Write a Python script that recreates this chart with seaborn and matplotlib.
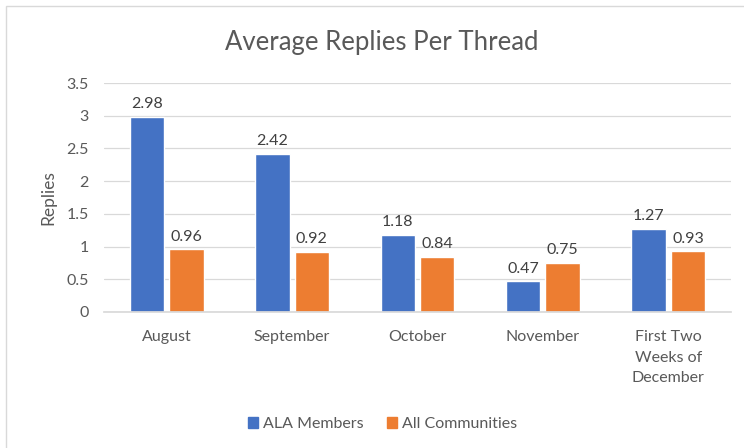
import matplotlib.pyplot as plt
import matplotlib.patches as mpatches
import seaborn as sns
import pandas as pd

# chart values
months = ["August", "September", "October", "November", "First Two\nWeeks of\nDecember"]
ala_members = [2.98, 2.42, 1.18, 0.47, 1.27]
all_communities = [0.96, 0.92, 0.84, 0.75, 0.93]
series_names = ["ALA Members", "All Communities"]
y_ticks = [0, 0.5, 1, 1.5, 2, 2.5, 3, 3.5]
y_tick_labels = ["0", "0.5", "1", "1.5", "2", "2.5", "3", "3.5"]

sns.set_theme(style="white")
plt.rcParams["font.family"] = ["Lato", "DejaVu Sans"]

df = pd.DataFrame({
    "Month": months * 2,
    "Replies": ala_members + all_communities,
    "Series": [series_names[0]] * len(months) + [series_names[1]] * len(months),
})

text_color = "#595959"
fig = plt.figure(figsize=(7.44, 4.48), dpi=100)
ax = fig.add_axes([0.1398, 0.3036, 0.8427, 0.5111])

sns.barplot(data=df, x="Month", y="Replies", hue="Series",
            palette=["#4472C4", "#ED7D31"], width=0.63, gap=0.13,
            ax=ax, legend=False, saturation=1)

for cont in ax.containers:
    ax.bar_label(cont, fmt="%.2f", padding=4, fontsize=11.5, color="#404040")

ax.set_ylim(0, 3.5)
ax.set_xlim(-0.5, len(months) - 0.5)
ax.set_yticks(y_ticks)
ax.set_yticklabels(y_tick_labels)
ax.yaxis.grid(True, color="#d9d9d9", linewidth=0.9)
ax.set_axisbelow(True)
for side in ["top", "right", "left"]:
    ax.spines[side].set_visible(False)
ax.spines["bottom"].set_color("#d9d9d9")
ax.tick_params(axis="both", length=0, labelsize=11.5, labelcolor=text_color)
ax.tick_params(axis="y", pad=11)
ax.tick_params(axis="x", pad=13)
for lbl in ax.get_xticklabels():
    lbl.set_linespacing(1.6)
ax.set_xlabel("")
ax.set_ylabel("Replies", fontsize=12.5, color=text_color, labelpad=7)

fig.text(0.513, 0.905, "Average Replies Per Thread", ha="center", va="center",
         fontsize=18.5, color=text_color)

handles = [mpatches.Patch(color="#4472C4", label=series_names[0]),
           mpatches.Patch(color="#ED7D31", label=series_names[1])]
fig.legend(handles=handles, loc="center", bbox_to_anchor=(0.514, 0.054), ncol=2,
           frameon=False, fontsize=11.5, labelcolor=text_color,
           handlelength=0.6, handleheight=0.7, handletextpad=0.3, columnspacing=1.5)

# chart frame, partly cropped in the reference
fig.patches.append(mpatches.Rectangle((6 / 744, -0.1), 1.2, (1 - 6 / 448) + 0.1,
                                      transform=fig.transFigure, fill=False,
                                      edgecolor="#d9d9d9", linewidth=1))

fig.savefig("out.png", dpi=100)
